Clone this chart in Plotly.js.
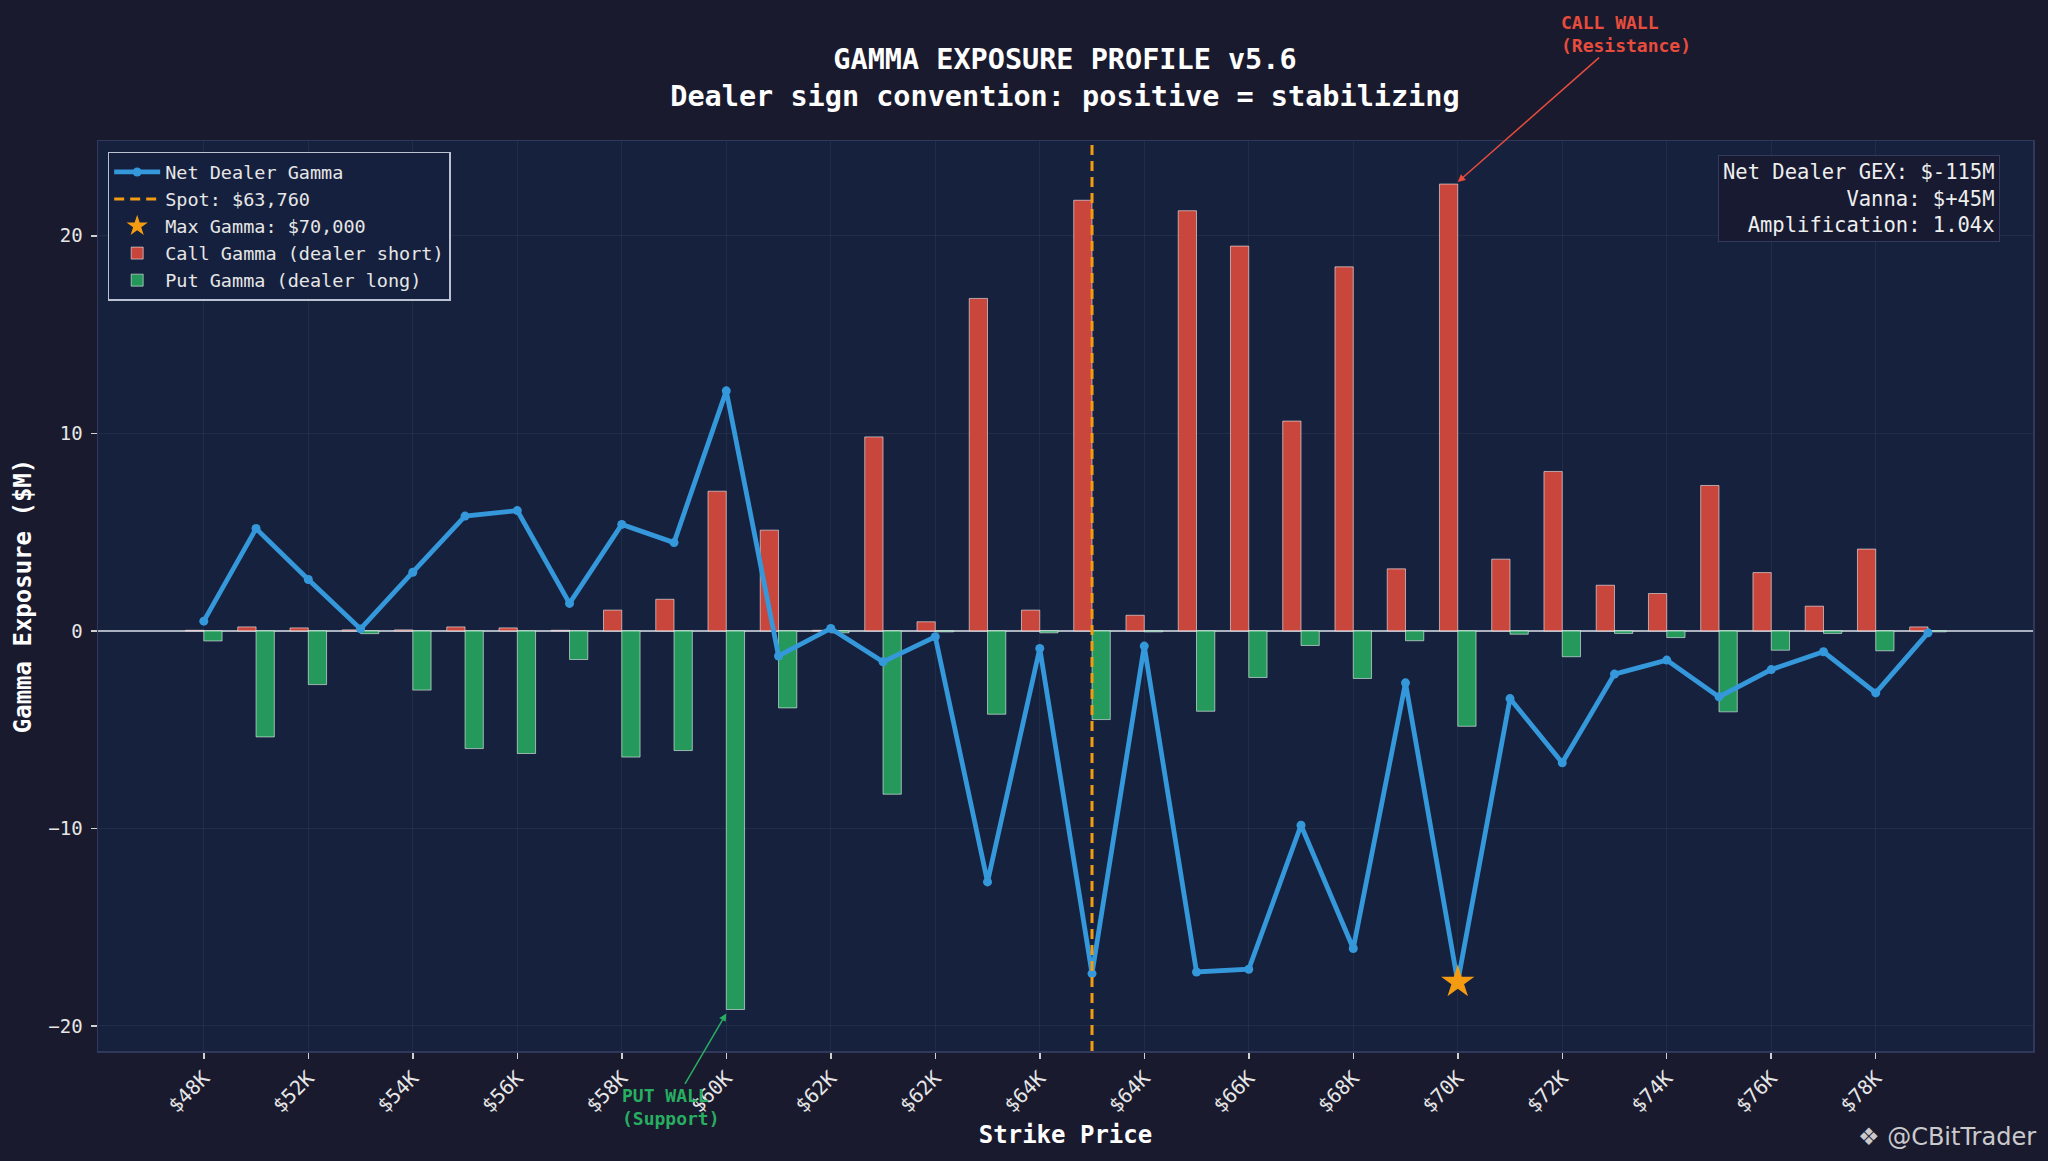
<!DOCTYPE html>
<html>
<head>
<meta charset="utf-8">
<script src="https://cdn.plot.ly/plotly-3.0.1.min.js"></script>
<style>
  html, body { margin: 0; padding: 0; background: #1a1a2e; }
  #chart { width: 2048px; height: 1161px; }
</style>
</head>
<body>
<div id="chart"></div>
<script>
// ---- data ----
const tickLabels = ['$48K','$52K','$54K','$56K','$58K','$60K','$62K','$62K','$64K',
                    '$64K','$66K','$68K','$70K','$72K','$74K','$76K','$78K'];
const callGamma = [0.03, 0.2, 0.15, 0.05, 0.05, 0.2, 0.15, 0.03, 1.05, 1.6,
                   7.07, 5.1, 0.03, 9.82, 0.46, 16.83, 1.05, 21.8, 0.79, 21.27,
                   19.48, 10.62, 18.43, 3.14, 22.62, 3.63, 8.07, 2.31, 1.89, 7.36,
                   2.95, 1.25, 4.14, 0.2];
const putGamma = [-0.51, -5.37, -2.72, -0.14, -3.0, -5.96, -6.21, -1.45, -6.39, -6.06,
                  -19.17, -3.9, -0.1, -8.27, -0.05, -4.22, -0.1, -4.49, -0.05, -4.07,
                  -2.36, -0.74, -2.41, -0.5, -4.83, -0.17, -1.31, -0.13, -0.34, -4.1,
                  -0.98, -0.13, -1.01, -0.05];
const netGamma = [0.49, 5.18, 2.6, 0.1, 2.97, 5.81, 6.09, 1.39, 5.39, 4.47,
                  12.15, -1.27, 0.12, -1.57, -0.3, -12.71, -0.89, -17.35, -0.77, -17.27,
                  -17.13, -9.84, -16.08, -2.63, -17.78, -3.43, -6.68, -2.19, -1.48, -3.34,
                  -1.96, -1.06, -3.14, -0.1];
const spotIndex = 17;          // strike slot of spot
const spotLabel = 'Spot: $63,760';
const maxGammaIndex = 24;      // strike slot of max gamma
const maxGammaLabel = 'Max Gamma: $70,000';
const putWallIndex = 10;
const statsLines = ['Net Dealer GEX: $-115M', 'Vanna: $+45M', 'Amplification: 1.04x'];

// ---- derived ----
const idx = callGamma.map((_, i) => i);
const tickVals = tickLabels.map((_, i) => i * 2);
const FONT = 'DejaVu Sans Mono';
const BAR_W = 0.35;

const traces = [
  {
    type: 'bar', name: 'Call Gamma (dealer short)', x: idx, y: callGamma,
    width: BAR_W, offset: -BAR_W,
    marker: { color: 'rgba(231,76,60,0.85)', line: { color: 'rgba(255,255,255,0.55)', width: 1 } },
    legendrank: 4, hoverinfo: 'skip'
  },
  {
    type: 'bar', name: 'Put Gamma (dealer long)', x: idx, y: putGamma,
    width: BAR_W, offset: 0,
    marker: { color: 'rgba(39,174,96,0.85)', line: { color: 'rgba(255,255,255,0.55)', width: 1 } },
    legendrank: 5, hoverinfo: 'skip'
  },
  {
    type: 'scatter', mode: 'lines+markers', name: 'Net Dealer Gamma', x: idx, y: netGamma,
    line: { color: '#3498db', width: 4.8 },
    marker: { color: '#3498db', size: 9 },
    legendrank: 1, hoverinfo: 'skip'
  },
  {
    type: 'scatter', mode: 'markers', name: maxGammaLabel,
    x: [maxGammaIndex], y: [netGamma[maxGammaIndex]],
    marker: { symbol: 'star', color: '#f39c12', size: 25, line: { width: 0 } },
    legendrank: 3, hoverinfo: 'skip'
  }
];

const layout = {
  width: 2048, height: 1161,
  paper_bgcolor: '#1a1a2e',
  plot_bgcolor: '#16213e',
  margin: { l: 98, r: 15, t: 141, b: 110 },
  barmode: 'overlay',
  font: { family: FONT, color: '#e6e6e6', size: 18 },
  title: {
    text: 'GAMMA EXPOSURE PROFILE v5.6<br>Dealer sign convention: positive = stabilizing',
    font: { family: FONT, size: 28.5, color: '#ffffff', weight: 'bold' },
    x: 0.52, xref: 'container', xanchor: 'center',
    y: 1 - 69 / 1161, yref: 'container', yanchor: 'top'
  },
  xaxis: {
    range: [-2.025, 35.01],
    tickmode: 'array', tickvals: tickVals, ticktext: tickLabels,
    tickangle: -45,
    tickfont: { family: FONT, size: 20, color: '#e6e6e6' },
    ticks: 'outside', ticklen: 6, tickwidth: 1.5, tickcolor: '#d0d0d0',
    showgrid: true, gridcolor: 'rgba(255,255,255,0.05)', gridwidth: 1,
    zeroline: false,
    showline: true, mirror: true, linecolor: '#30395c', linewidth: 1.5,
    title: { text: 'Strike Price', font: { family: FONT, size: 24, color: '#ffffff', weight: 'bold' }, standoff: 10 }
  },
  yaxis: {
    range: [-21.27, 24.8],
    tickvals: [-20, -10, 0, 10, 20],
    tickfont: { family: FONT, size: 19, color: '#e6e6e6' },
    ticks: 'outside', ticklen: 6, tickwidth: 1.5, tickcolor: '#d0d0d0',
    ticklabelstandoff: 4,
    showgrid: true, gridcolor: 'rgba(255,255,255,0.05)', gridwidth: 1,
    zeroline: true, zerolinecolor: 'rgba(220,225,235,0.75)', zerolinewidth: 1.5,
    showline: true, mirror: true, linecolor: '#30395c', linewidth: 1.5,
    title: { text: 'Gamma Exposure ($M)', font: { family: FONT, size: 24, color: '#ffffff', weight: 'bold' }, standoff: 10 }
  },
  legend: {
    x: 0.005, y: 0.988, xanchor: 'left', yanchor: 'top',
    bgcolor: 'rgba(22,33,62,0.92)', bordercolor: 'rgba(215,222,235,0.85)', borderwidth: 1.5,
    font: { family: FONT, size: 18.5, color: '#e6e6e6' },
    itemwidth: 46, tracegroupgap: 5
  },
  shapes: [
    {
      type: 'line', xref: 'x', yref: 'paper', x0: spotIndex, x1: spotIndex, y0: 0, y1: 1,
      line: { color: '#f39c12', width: 3, dash: '10px,6px' },
      showlegend: true, name: spotLabel, legendrank: 2, layer: 'above'
    }
  ],
  annotations: [
    {
      x: maxGammaIndex, y: callGamma[maxGammaIndex] + 0.1, xref: 'x', yref: 'y',
      text: '<b>CALL WALL<br>(Resistance)</b>', align: 'left',
      font: { family: FONT, size: 18, color: '#e74c3c' },
      showarrow: true, arrowhead: 2, arrowsize: 1, arrowwidth: 1.5, arrowcolor: '#e74c3c',
      ax: 168, ay: -148
    },
    {
      x: putWallIndex, y: putGamma[putWallIndex] - 0.2, xref: 'x', yref: 'y',
      text: '<b>PUT WALL<br>(Support)</b>', align: 'left',
      font: { family: FONT, size: 18, color: '#27ae60' },
      showarrow: true, arrowhead: 2, arrowsize: 1, arrowwidth: 1.5, arrowcolor: '#27ae60',
      ax: -55, ay: 94
    },
    {
      xref: 'paper', yref: 'paper', x: 0.983, y: 0.985, xanchor: 'right', yanchor: 'top',
      text: statsLines.join('<br>'), align: 'right', showarrow: false,
      font: { family: FONT, size: 20.5, color: '#eeeeee' },
      bgcolor: 'rgba(24,26,48,0.92)', bordercolor: 'rgba(70,80,120,0.6)', borderwidth: 1, borderpad: 4
    },
    {
      xref: 'paper', yref: 'paper', x: 1.0026, y: -0.0945, xanchor: 'right', yanchor: 'middle',
      text: '❖ @CBitTrader', showarrow: false,
      font: { family: 'DejaVu Sans', size: 24, color: 'rgba(235,235,235,0.85)' }
    }
  ]
};

Plotly.newPlot('chart', traces, layout, { displayModeBar: false, staticPlot: true });
</script>
</body>
</html>
